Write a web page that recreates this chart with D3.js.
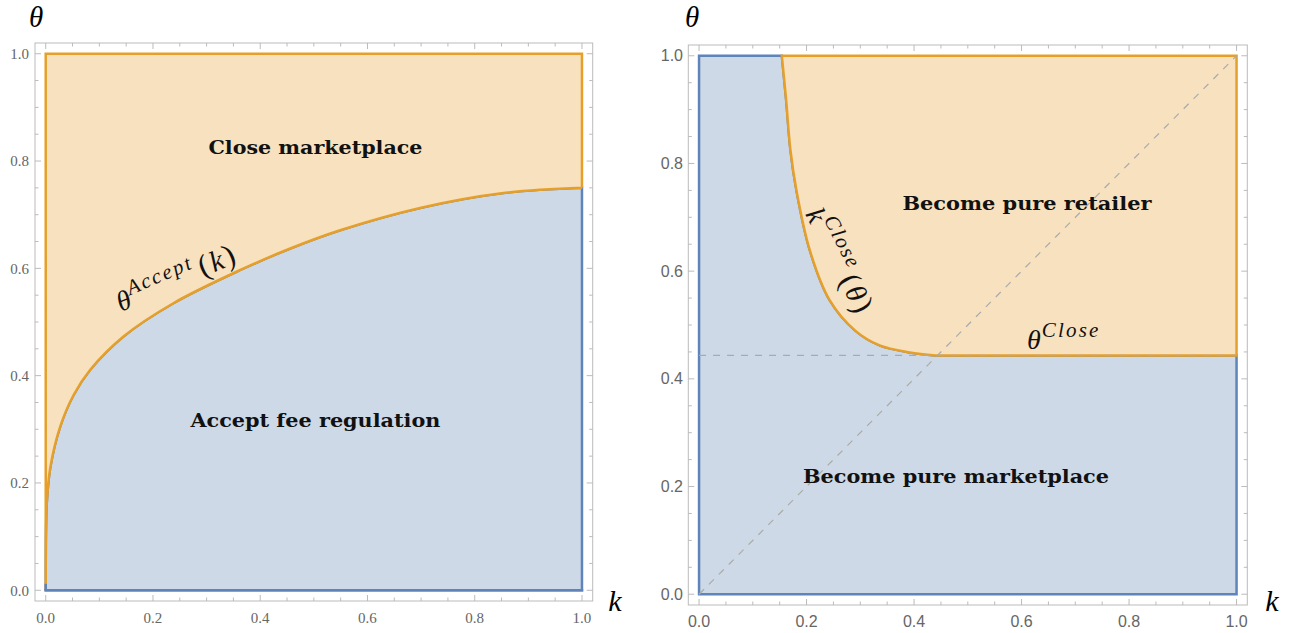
<!DOCTYPE html>
<html><head><meta charset="utf-8">
<script src="https://cdn.jsdelivr.net/npm/d3@7"></script>
<style>body{margin:0;background:#fff}svg{display:block}</style>
</head><body>
<svg id="c" width="1303" height="633"></svg>
<script>
// ---- data ----
const tickValues = [0.0, 0.2, 0.4, 0.6, 0.8, 1.0];
const minorTickValues = d3.range(0, 1.0001, 0.05);
// left panel: theta^Accept(k)
const acceptK     = [0, 0.0001, 0.0005, 0.002, 0.0084, 0.027, 0.052, 0.083, 0.145, 0.238, 0.363, 0.456, 0.549, 0.70, 0.85, 1.0];
const acceptTheta = [0, 0.06,   0.11,   0.163, 0.228,  0.305, 0.364, 0.411, 0.473, 0.535, 0.597, 0.637, 0.671, 0.713, 0.740, 0.75];
// right panel: k^Close(theta) and theta^Close
const closeK     = [0.154, 0.162, 0.170, 0.181, 0.206, 0.243, 0.29, 0.336, 0.392, 0.44];
const closeTheta = [1.0,   0.918, 0.825, 0.751, 0.639, 0.546, 0.49, 0.462, 0.449, 0.4435];
const thetaClose = 0.4435;
const leftLabels = ["Close marketplace", "Accept fee regulation"];
const rightLabels = ["Become pure retailer", "Become pure marketplace"];

const C = {blueFill:"#CDD9E7", orangeFill:"#F7E1BF", blue:"#5F84BA", orange:"#E6A02A", frame:"#BBBBBB", tick:"#666666", dash:"#AAAAAA"};
const svg = d3.select("#c");

function panel(cfg){
  const x = d3.scaleLinear().domain([-0.02,1.02]).range([cfg.x0, cfg.x1]);
  const y = d3.scaleLinear().domain([-0.02,1.02]).range([cfg.y0, cfg.y1]);
  const g = svg.append("g");
  return {x, y, g, cfg};
}

function frame(p, font, fsize, labelDy, ylabX){
  const {x,y,g,cfg} = p;
  g.append("rect").attr("x",cfg.x0).attr("y",cfg.y1).attr("width",cfg.x1-cfg.x0).attr("height",cfg.y0-cfg.y1)
    .attr("fill","none").attr("stroke",C.frame).attr("stroke-width",1);
  const tk = g.append("g").attr("stroke",C.frame).attr("stroke-width",1);
  minorTickValues.forEach(v=>{
    const major = Math.abs(Math.round(v*5)-v*5)<1e-6;
    const L = major?6:3.5;
    tk.append("line").attr("x1",x(v)).attr("x2",x(v)).attr("y1",cfg.y0).attr("y2",cfg.y0-L);
    tk.append("line").attr("x1",x(v)).attr("x2",x(v)).attr("y1",cfg.y1).attr("y2",cfg.y1+L);
    tk.append("line").attr("y1",y(v)).attr("y2",y(v)).attr("x1",cfg.x0).attr("x2",cfg.x0+L);
    tk.append("line").attr("y1",y(v)).attr("y2",y(v)).attr("x1",cfg.x1).attr("x2",cfg.x1-L);
  });
  tickValues.forEach(v=>{
    g.append("text").attr("x",x(v)).attr("y",cfg.y0+labelDy).attr("text-anchor","middle")
      .attr("font-family",font).attr("font-size",fsize).attr("fill",C.tick).text(v.toFixed(1));
    g.append("text").attr("x",ylabX).attr("y",y(v)).attr("dy","0.35em").attr("text-anchor","end")
      .attr("font-family",font).attr("font-size",fsize).attr("fill",C.tick).text(v.toFixed(1));
  });
}

function axisTitle(xp, yp, s, size){
  svg.append("text").attr("x",xp).attr("y",yp).attr("text-anchor","middle")
    .attr("font-family","Liberation Serif").attr("font-style","italic").attr("font-size",size).text(s);
}

function regionLabel(p, kx, ty, txt, len){
  p.g.append("text").attr("x",p.x(kx)).attr("y",p.y(ty)).attr("dy","0.35em").attr("text-anchor","middle")
    .attr("font-family","DejaVu Serif").attr("font-weight","bold").attr("font-size",18)
    .attr("textLength",len).attr("lengthAdjust","spacingAndGlyphs").attr("fill","#111").text(txt);
}

// math label: base^sup(arg)
function mathLabel(g, transform, base, sup, arg, rise, ls){
  const t = g.append("text").attr("transform",transform)
    .attr("font-family","Liberation Serif").attr("font-style","italic").attr("fill","#111");
  t.append("tspan").attr("font-size",28).text(base);
  t.append("tspan").attr("font-size",21).attr("dy",-rise).attr("dx",1).attr("letter-spacing",ls).text(sup);
  if(arg){
    t.append("tspan").attr("font-size",31).attr("dy",rise).attr("dx",4).attr("font-style","normal").text("(");
    t.append("tspan").attr("font-size",29).attr("dx",2).text(arg);
    t.append("tspan").attr("font-size",31).attr("dx",2).attr("font-style","normal").text(")");
  }
}

// ---------------- LEFT PANEL ----------------
const L = panel({x0:35, x1:592.7, y0:601, y1:43});
{
  const {x,y,g} = L;
  const pts = acceptK.map((k,i)=>[k, acceptTheta[i]]);
  const line = d3.line().x(d=>x(d[0])).y(d=>y(d[1])).curve(d3.curveCatmullRom.alpha(0.5));
  g.append("path").attr("d", line(pts) + `L${x(1)},${y(0)}L${x(0)},${y(0)}Z`).attr("fill",C.blueFill)
    .attr("stroke",C.blue).attr("stroke-width",2.5);
  const rev = pts.slice().reverse();
  g.append("path").attr("d", `M${x(0)},${y(1)}L${x(1)},${y(1)}L${x(1)},${y(0.75)}` + line(rev).replace(/^M/,"L") + "Z")
    .attr("fill",C.orangeFill).attr("stroke",C.orange).attr("stroke-width",2.5);
  g.append("line").attr("x1",x(0)).attr("x2",x(0)).attr("y1",y(0)).attr("y2",y(0.012)).attr("stroke",C.blue).attr("stroke-width",2.5);
  g.append("line").attr("x1",x(0)-1.25).attr("x2",x(1)+1.25).attr("y1",y(0)).attr("y2",y(0)).attr("stroke",C.blue).attr("stroke-width",2.5);
  frame(L, "Liberation Serif", 15, 22, 29);
  regionLabel(L, 0.503, 0.825, leftLabels[0], 214);
  regionLabel(L, 0.503, 0.316, leftLabels[1], 250);
  mathLabel(g, "translate(121,312) rotate(-23)", "θ", "Accept", "k", 12, 2.2);
}

// ---------------- RIGHT PANEL ----------------
const R = panel({x0:688.3, x1:1247.3, y0:605, y1:45});
{
  const {x,y,g} = R;
  const pts = closeK.map((k,i)=>[k, closeTheta[i]]);
  const line = d3.line().x(d=>x(d[0])).y(d=>y(d[1])).curve(d3.curveCatmullRom.alpha(0.5));
  g.append("path").attr("d", `M${x(0)},${y(0)}L${x(0)},${y(1)}` + line(pts).replace(/^M/,"L") +
      `L${x(1)},${y(thetaClose)}L${x(1)},${y(0)}Z`)
    .attr("fill",C.blueFill).attr("stroke",C.blue).attr("stroke-width",2.5);
  g.append("path").attr("d", line(pts) + `L${x(1)},${y(thetaClose)}L${x(1)},${y(1)}Z`)
    .attr("fill",C.orangeFill).attr("stroke",C.orange).attr("stroke-width",2.5);
  g.append("line").attr("x1",x(0)).attr("y1",y(0)).attr("x2",x(1)).attr("y2",y(1))
    .attr("stroke",C.dash).attr("stroke-width",1.2).attr("stroke-dasharray","7,7");
  g.append("line").attr("x1",x(0)).attr("y1",y(thetaClose)).attr("x2",x(1)).attr("y2",y(thetaClose))
    .attr("stroke",C.dash).attr("stroke-width",1.2).attr("stroke-dasharray","7,7");
  frame(R, "Liberation Sans", 16, 22, 683);
  regionLabel(R, 0.61, 0.726, rightLabels[0], 249);
  regionLabel(R, 0.478, 0.218, rightLabels[1], 306);
  mathLabel(g, "translate(805,214) rotate(63)", "k", "Close", "θ", 14, 1.8);
  mathLabel(g, "translate(1027,349)", "θ", "Close", null, 12, 2.2);
}
axisTitle(36, 27, "θ", 29);
axisTitle(615, 611, "k", 30);
axisTitle(692, 27, "θ", 29);
axisTitle(1272, 611, "k", 30);
</script>
</body></html>
